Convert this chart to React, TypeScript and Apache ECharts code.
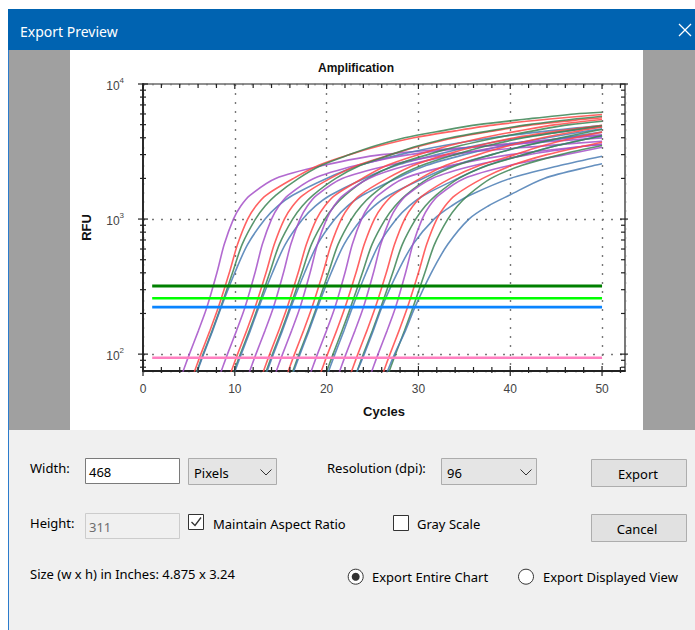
import React, { useEffect, useRef } from 'react';
import * as echarts from 'echarts';

// ---------- chart data ----------
const cycleMin = 0;
const cycleMax = 52.5;
const rfuMin = 75;
const rfuMax = 10000;
const xTickCycles = [0, 2, 4, 6, 8, 10, 12, 14, 16, 18, 20, 22, 24, 26, 28, 30, 32, 34, 36, 38, 40, 42, 44, 46, 48, 50, 52];
const yTickRFU = [80, 90, 100, 200, 300, 400, 500, 600, 700, 800, 900, 1000, 2000, 3000, 4000, 5000, 6000, 7000, 8000, 9000, 10000];
const majorYTicks = [100, 1000, 10000];

const rfuLevels = [55, 74, 100, 150, 221, 400, 650, 1000, 1250, 1500, 2000, 2500, 3000, 3500, 4000, 4500, 5000, 5500, 6000];
const curveDyes = [
  'P', 'R', 'G', 'B',
  'P', 'R', 'G', 'B',
  'P', 'R', 'G', 'B',
  'P', 'R', 'G', 'B',
  'P', 'R', 'G', 'B',
  'P', 'R', 'G', 'B',
  'P', 'R', 'G', 'B',
];
const crossingCycles: number[][] = [
  [3.65, 4.35, 5.05, 6.05, 6.95, 8.05, 8.85, 9.85, 10.65, 11.65, 14.45, 19.7, 26, 38],
  [4.9, 5.6, 6.3, 7.3, 8.2, 9.4, 10.3, 11.4, 12.3, 13.4, 16.4, 19.15, 22.5, 25.9, 29.5, 34, 38.5, 44.3],
  [5.15, 5.85, 6.55, 7.55, 8.45, 9.75, 10.8, 12.25, 13.3, 14.45, 16.95, 19.45, 22.5, 25.4, 28.5, 32.5, 36.5, 41.75, 47],
  [5.2, 5.9, 6.6, 7.6, 8.5, 10.0, 11.4, 13.3, 14.7, 16.3, 20, 23.6, 28, 32.8, 38, 44.2],

  [7.8, 8.5, 9.2, 10.2, 11.1, 12.2, 13.0, 14.0, 14.8, 15.8, 18.6, 23.3, 29, 37.6, 47],
  [8.9, 9.6, 10.3, 11.3, 12.2, 13.4, 14.3, 15.4, 16.3, 17.4, 20.4, 23.4, 27, 30.4, 34, 38.25, 42.5, 48.4],
  [9.2, 9.9, 10.6, 11.6, 12.5, 13.8, 14.85, 16.3, 17.35, 18.5, 21, 23.7, 27, 30.1, 33.5, 37.75, 42, 47],
  [9.3, 10.0, 10.7, 11.7, 12.6, 14.1, 15.5, 17.4, 18.8, 20.4, 24.1, 27.65, 32, 36.3, 41, 46.4],

  [10.9, 11.6, 12.3, 13.3, 14.2, 15.3, 16.1, 17.1, 17.9, 18.9, 21.7, 26.8, 33, 44],
  [12.4, 13.1, 13.8, 14.8, 15.7, 16.9, 17.8, 18.9, 19.8, 20.9, 23.9, 26.6, 30, 33.4, 37, 41, 45],
  [12.7, 13.4, 14.1, 15.1, 16.0, 17.3, 18.35, 19.8, 20.85, 22, 24.5, 27.4, 31, 34.6, 38.5, 42.5, 46.5],
  [12.8, 13.5, 14.2, 15.2, 16.1, 17.6, 19.0, 20.9, 22.3, 23.9, 27.6, 30.9, 35, 39.3, 44, 48.5],

  [13.8, 14.5, 15.2, 16.2, 17.1, 18.2, 19.0, 20.0, 20.8, 21.8, 24.6, 28.8, 34, 39.8, 46],
  [15.1, 15.8, 16.5, 17.5, 18.4, 19.6, 20.5, 21.6, 22.5, 23.6, 26.6, 29.5, 33, 36.6, 40.5, 45.4],
  [15.6, 16.3, 17.0, 18.0, 18.9, 20.2, 21.25, 22.7, 23.75, 24.9, 27.4, 30.4, 34, 37.6, 41.5, 46.2],
  [15.7, 16.4, 17.1, 18.1, 19.0, 20.5, 21.9, 23.8, 25.2, 26.8, 30.5, 33.9, 38, 41.8, 46],

  [17.6, 18.3, 19.0, 20.0, 20.9, 22.0, 22.8, 23.8, 24.6, 25.6, 28.4, 33.6, 40, 48.8],
  [18.7, 19.4, 20.1, 21.1, 22.0, 23.2, 24.1, 25.2, 26.1, 27.2, 30.2, 33, 36.5, 39.9, 43.5, 47.5],
  [19.3, 20.0, 20.7, 21.7, 22.6, 23.9, 24.95, 26.4, 27.45, 28.6, 31.1, 34.2, 38, 41.6, 45.5, 49.2],
  [19.5, 20.2, 20.9, 21.9, 22.8, 24.3, 25.7, 27.6, 29.0, 30.6, 34.3, 37.5, 41.5, 45.1, 49],

  [20.7, 21.4, 22.1, 23.1, 24.0, 25.1, 25.9, 26.9, 27.7, 28.7, 31.5, 36.2, 42, 48.6],
  [22.0, 22.7, 23.4, 24.4, 25.3, 26.5, 27.4, 28.5, 29.4, 30.5, 33.5, 36.7, 40.5, 43.6, 47],
  [22.6, 23.3, 24.0, 25.0, 25.9, 27.2, 28.25, 29.7, 30.75, 31.9, 34.4, 37.6, 41.5, 45.1, 49],
  [22.5, 23.3, 24.1, 25.1, 26.0, 27.7, 29.4, 31.7, 33.6, 35.6, 40, 45.5],

  [24.2, 24.9, 25.6, 26.6, 27.5, 28.6, 29.4, 30.4, 31.2, 32.2, 35, 40, 46],
  [25.5, 26.2, 26.9, 27.9, 28.8, 30.0, 30.9, 32.0, 32.9, 34.0, 37.0, 40.2, 44, 48.3],
  [26.1, 26.8, 27.5, 28.5, 29.4, 30.7, 31.75, 33.2, 34.25, 35.4, 37.9, 41.3, 45.5],
  [25.8, 26.6, 27.4, 28.6, 29.6, 31.4, 33.2, 35.5, 37.6, 39.9, 43.7, 49.2],
];
const endCycle = 50;
const endRFU = [
  3990, 5940, 6180, 4920,
  4150, 5620, 5770, 4820,
  3770, 5460, 5300, 4660,
  4200, 4950, 4900, 4400,
  3560, 4800, 4600, 4100,
  3600, 4400, 4150, 2920,
  3400, 3700, 3500, 2570,
];

// threshold lines
const thresholdRFU = [319, 259, 223, 94];
const thresholdColors = ['#008000', '#00ff00', '#0a84ff', '#ff80c0'];
const thresholdStart = 1;
const thresholdEnd = 50;

const dyeColors: Record<string, string> = {
  P: '#a450c8',
  R: '#ff4646',
  G: '#3c8453',
  B: '#4a7db4',
};

// ---------- dialog ----------
const UI_FONT = '"Noto Sans", "Open Sans", sans-serif';
const CHART_FONT = '"Liberation Sans", Arial, sans-serif';

function rect(x: number, y: number, w: number, h: number, fill: string, stroke?: string, z = -10) {
  return {
    type: 'rect',
    shape: { x, y, width: w, height: h },
    style: { fill, stroke: stroke || null, lineWidth: stroke ? 1 : 0 },
    z,
    silent: true,
  };
}
function txt(x: number, y: number, text: string, opts: any = {}) {
  return {
    type: 'text',
    x,
    y,
    z: 50,
    silent: true,
    style: {
      text,
      fill: opts.fill || '#000',
      fontSize: opts.fontSize || 13,
      fontFamily: opts.fontFamily || UI_FONT,
      fontWeight: opts.fontWeight || 'normal',
      align: opts.align || 'left',
      verticalAlign: 'middle',
      textAlign: opts.align || 'left',
      textVerticalAlign: 'middle',
    },
  };
}
function pline(points: number[][], stroke: string, lineWidth = 1) {
  return { type: 'polyline', shape: { points }, style: { stroke, lineWidth, fill: null }, z: 50, silent: true };
}
function circ(cx: number, cy: number, r: number, fill: string, stroke?: string) {
  return { type: 'circle', shape: { cx, cy, r }, style: { fill, stroke: stroke || null, lineWidth: stroke ? 1 : 0 }, z: 50, silent: true };
}

function dialogElements() {
  return [
    rect(0, 0, 695, 630, '#ffffff', undefined, -20),
    rect(8, 9, 687, 41, '#0063b1'),
    rect(8, 50, 1, 580, '#2c7bcb'),
    rect(9, 50, 686, 380, '#a0a0a0'),
    rect(70, 50, 573, 380, '#ffffff'),
    rect(9, 430, 686, 200, '#f0f0f0'),
    txt(20, 31, 'Export Preview', { fill: '#ffffff', fontSize: 14 }),
    pline([[679, 24], [691, 36]], '#ffffff', 1.2),
    pline([[691, 24], [679, 36]], '#ffffff', 1.2),

    txt(30, 468, 'Width:'),
    { ...rect(85.5, 458.5, 94, 25, '#ffffff', '#7a7a7a'), z: 40 },
    txt(89, 472, '468'),
    { ...rect(188.5, 458.5, 88, 26, '#e5e5e5', '#acacac'), z: 40 },
    txt(194, 472.5, 'Pixels'),
    pline([[260.5, 469.5], [266, 475], [271.5, 469.5]], '#333333', 1),

    txt(327, 468, 'Resolution (dpi):'),
    { ...rect(441.5, 458.5, 95, 26, '#e5e5e5', '#acacac'), z: 40 },
    txt(447, 472.5, '96'),
    pline([[520.5, 469.5], [526, 475], [531.5, 469.5]], '#333333', 1),

    { ...rect(591.5, 459.5, 95, 27, '#e1e1e1', '#adadad'), z: 40 },
    txt(638, 474, 'Export', { align: 'center' }),

    txt(30, 523, 'Height:'),
    { ...rect(85.5, 513.5, 94, 25, '#f0f0f0', '#cccccc'), z: 40 },
    txt(89, 527, '311', { fill: '#6d6d6d' }),

    { ...rect(188.5, 514.5, 15, 15, '#ffffff', '#333333'), z: 40 },
    pline([[191.5, 522], [195, 525.5], [201, 517.5]], '#333333', 1.3),
    txt(213, 524, 'Maintain Aspect Ratio'),

    { ...rect(393.5, 515.5, 15, 15, '#ffffff', '#333333'), z: 40 },
    txt(417, 524, 'Gray Scale'),

    { ...rect(591.5, 514.5, 95, 27, '#e1e1e1', '#adadad'), z: 40 },
    txt(637, 529, 'Cancel', { align: 'center' }),

    txt(30, 574, 'Size (w x h) in Inches: 4.875 x 3.24'),

    circ(355.7, 576.7, 7.5, '#ffffff', '#333333'),
    circ(355.7, 576.7, 4, '#333333'),
    txt(372, 577, 'Export Entire Chart'),
    circ(526, 576.7, 7.5, '#ffffff', '#333333'),
    txt(543, 577, 'Export Displayed View'),
  ];
}

function buildOption(): any {
  const curveSeries = crossingCycles.map((row, i) => {
    const pts: number[][] = row.map((c, j) => [c, rfuLevels[j]]);
    pts.push([endCycle, endRFU[i]]);
    return {
      type: 'line',
      data: pts,
      symbol: 'none',
      showSymbol: false,
      smooth: 0.3,
      silent: true,
      clip: true,
      z: 3,
      lineStyle: { color: dyeColors[curveDyes[i]], width: 1.6, opacity: 0.85 },
    };
  });

  const thresholdSeries = thresholdRFU.map((v, i) => ({
    type: 'line',
    data: [[thresholdStart, v], [thresholdEnd, v]],
    symbol: 'none',
    silent: true,
    z: 4,
    lineStyle: { color: thresholdColors[i], width: i === 0 ? 3 : 2.6 },
  }));

  const tickStyle = { stroke: '#222', lineWidth: 1.2 };
  const xTickSeries = {
    type: 'custom',
    silent: true,
    clip: false,
    z: 6,
    data: xTickCycles.map((c) => [c, rfuMin]),
    renderItem: (params: any, api: any) => {
      const c = api.value(0);
      const p = api.coord([c, rfuMin]);
      const cs = params.coordSys;
      const major = c % 10 === 0;
      const bottom = cs.y + cs.height;
      return {
        type: 'group',
        children: [
          { type: 'line', shape: { x1: p[0], y1: bottom - (major ? 5 : 4), x2: p[0], y2: bottom + (major ? 5 : 2) }, style: tickStyle },
          { type: 'line', shape: { x1: p[0], y1: cs.y, x2: p[0], y2: cs.y + (major ? 5 : 4) }, style: tickStyle },
        ],
      };
    },
  };
  const yTickSeries = {
    type: 'custom',
    silent: true,
    clip: false,
    z: 6,
    data: yTickRFU.map((v) => [cycleMin, v]),
    renderItem: (params: any, api: any) => {
      const v = api.value(1);
      const p = api.coord([cycleMin, v]);
      const cs = params.coordSys;
      const major = majorYTicks.indexOf(v) >= 0;
      const right = cs.x + cs.width;
      return {
        type: 'group',
        children: [
          { type: 'line', shape: { x1: cs.x - (major ? 5 : 3), y1: p[1], x2: cs.x + (major ? 5 : 3), y2: p[1] }, style: tickStyle },
          { type: 'line', shape: { x1: right - (major ? 5 : 4), y1: p[1], x2: right + (major ? 3 : 0), y2: p[1] }, style: tickStyle },
        ],
      };
    },
  };

  const gridLine = { color: '#777', type: [2, 7], width: 1.4 };

  return {
    animation: false,
    backgroundColor: 'transparent',
    graphic: { elements: dialogElements() },
    title: {
      text: 'Amplification',
      left: 318,
      top: 62,
      padding: 0,
      textStyle: { fontSize: 12, fontWeight: 'bold', color: '#111', fontFamily: CHART_FONT },
    },
    grid: {
      left: 143,
      top: 84,
      right: 70,
      bottom: 259,
      show: true,
      backgroundColor: 'transparent',
      borderColor: '#222',
      borderWidth: 1.2,
      containLabel: false,
    },
    xAxis: {
      type: 'value',
      min: cycleMin,
      max: cycleMax,
      interval: 10,
      name: 'Cycles',
      nameLocation: 'middle',
      nameGap: 34,
      nameTextStyle: { fontWeight: 'bold', fontSize: 13, color: '#111', fontFamily: CHART_FONT },
      axisLine: { show: true, lineStyle: { color: '#222', width: 1.8 } },
      axisTick: { show: false },
      axisLabel: {
        margin: 12,
        fontSize: 12,
        color: '#444',
        fontFamily: CHART_FONT,
        showMaxLabel: false,
        formatter: (v: number) => (Math.abs(v % 10) < 1e-9 && v <= 50 ? String(v) : ''),
      },
      splitLine: { show: true, lineStyle: gridLine },
    },
    yAxis: {
      type: 'log',
      logBase: 10,
      min: rfuMin,
      max: rfuMax,
      name: 'RFU',
      nameLocation: 'middle',
      nameRotate: 90,
      nameGap: 50,
      nameTextStyle: { fontWeight: 'bold', fontSize: 13, color: '#111', fontFamily: CHART_FONT },
      axisLine: { show: true, lineStyle: { color: '#222', width: 1.8 } },
      axisTick: { show: false },
      axisLabel: {
        margin: 19,
        color: '#444',
        fontFamily: CHART_FONT,
        formatter: (v: number) => {
          const e = Math.log10(v);
          const r = Math.round(e);
          return Math.abs(e - r) < 1e-6 ? `{b|10}{s|${r}}` : '';
        },
        rich: {
          b: { fontSize: 12, lineHeight: 16, verticalAlign: 'bottom', color: '#444', fontFamily: CHART_FONT },
          s: { fontSize: 8, lineHeight: 10, verticalAlign: 'top', color: '#444', fontFamily: CHART_FONT },
        },
      },
      splitLine: { show: true, lineStyle: gridLine },
    },
    series: [...curveSeries, ...thresholdSeries, xTickSeries, yTickSeries],
  };
}

export default function App() {
  const ref = useRef<HTMLDivElement>(null);
  useEffect(() => {
    document.body.style.margin = '0';
    const chart = echarts.init(ref.current!, null, { renderer: 'svg' });
    chart.setOption(buildOption());
    return () => chart.dispose();
  }, []);
  return <div ref={ref} style={{ width: 695, height: 630 }} />;
}
